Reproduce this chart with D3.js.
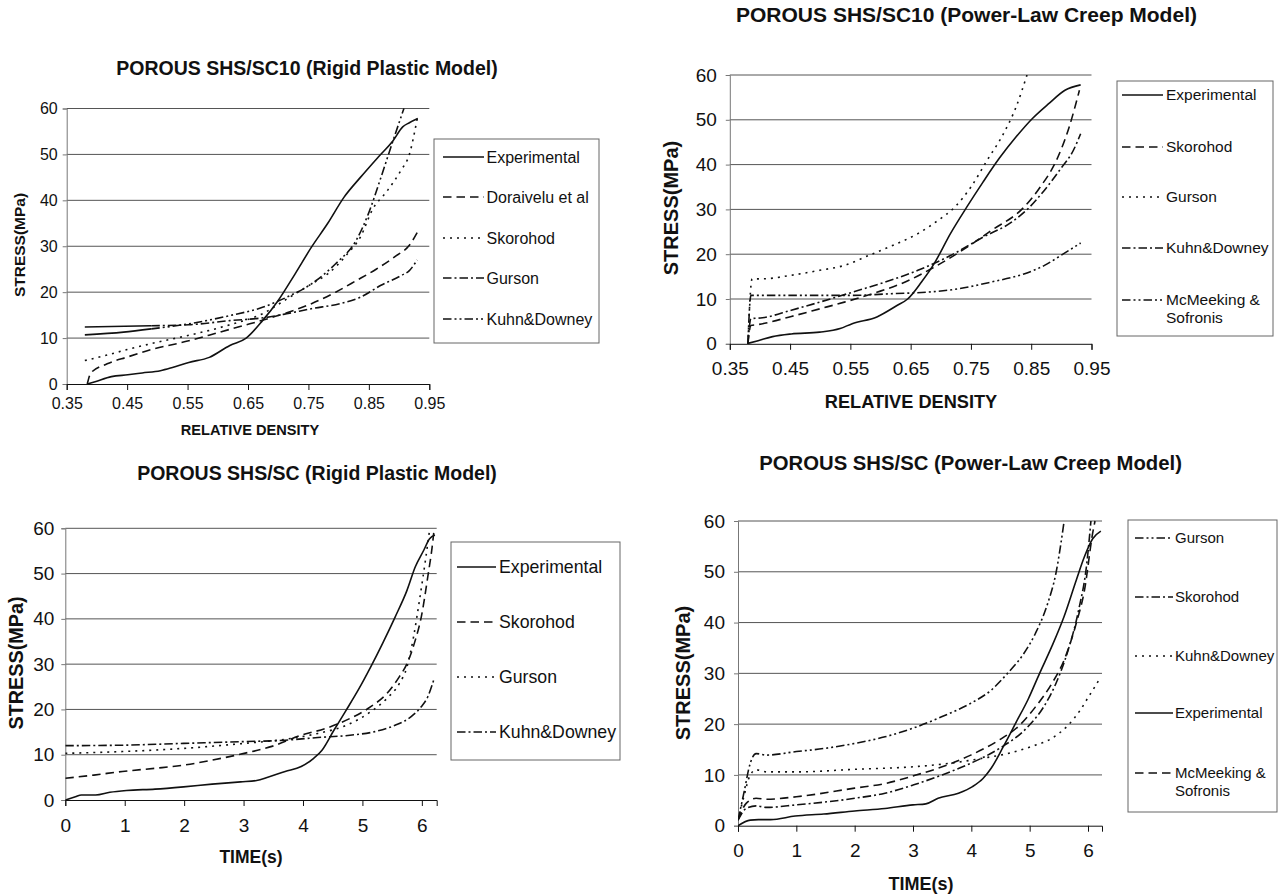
<!DOCTYPE html>
<html><head><meta charset="utf-8">
<script src="https://cdn.jsdelivr.net/npm/d3@7"></script>
<style>
html,body{margin:0;padding:0;background:#fff;}
svg text{font-family:"Liberation Sans",Arial,sans-serif;fill:#111;}
</style></head>
<body><svg id="c" width="1279" height="894"></svg>
<script>
// ---------- DATA ----------
const yTicks = [0,10,20,30,40,50,60];
const densityTicks = [0.35,0.45,0.55,0.65,0.75,0.85,0.95];
const timeTicks = [0,1,2,3,4,5,6];

// Panel 1: POROUS SHS/SC10 (Rigid Plastic Model)
const p1Experimental = [[0.384,0],[0.397,0.5],[0.424,1.6],[0.451,2.0],[0.475,2.4],[0.505,2.9],[0.525,3.6],[0.552,4.7],[0.586,5.8],[0.62,8.4],[0.647,10],[0.674,13.8],[0.70,18.2],[0.728,24],[0.755,29.8],[0.782,35],[0.809,40.7],[0.836,45],[0.866,49.5],[0.89,53],[0.906,56],[0.917,56.9],[0.931,57.8]];
const p1Doraivelu = [[0.384,0],[0.39,2.4],[0.417,4.4],[0.451,5.9],[0.49,7.5],[0.552,9.4],[0.606,11.4],[0.653,13.1],[0.70,14.9],[0.755,17.5],[0.795,20],[0.829,22.5],[0.862,25],[0.896,28],[0.917,30.2],[0.93,33]];
const p1Skorohod = [[0.38,5.1],[0.417,6.3],[0.45,7.5],[0.49,8.8],[0.552,10.6],[0.62,12.9],[0.674,15.3],[0.714,18.5],[0.755,21.8],[0.782,24],[0.815,28.4],[0.836,32],[0.856,38],[0.88,42],[0.903,46.5],[0.917,50],[0.93,57.8]];
const p1Gurson = [[0.38,12.4],[0.49,12.7],[0.552,12.9],[0.62,13.8],[0.68,14.5],[0.714,15.3],[0.755,16.4],[0.802,17.5],[0.836,18.9],[0.87,21.5],[0.903,23.6],[0.917,24.7],[0.93,27]];
const p1KuhnDowney = [[0.38,10.7],[0.444,11.3],[0.49,12],[0.552,13.1],[0.62,14.9],[0.674,16.7],[0.714,18.9],[0.755,21.8],[0.795,26.2],[0.829,31.3],[0.849,37],[0.87,45],[0.89,53],[0.908,60]];

// Panel 2: POROUS SHS/SC10 (Power-Law Creep Model)
const p2Experimental = [[0.38,0.1],[0.397,0.7],[0.421,1.6],[0.452,2.2],[0.499,2.6],[0.533,3.4],[0.553,4.5],[0.594,6],[0.628,8.6],[0.645,10],[0.668,13.8],[0.689,17.9],[0.716,24.6],[0.743,30.5],[0.77,36.1],[0.797,41.4],[0.825,46.2],[0.852,50.3],[0.879,53.6],[0.906,56.6],[0.932,57.8]];
const p2Skorohod = [[0.38,0],[0.385,4.1],[0.397,4.3],[0.452,6.1],[0.499,7.8],[0.54,9.3],[0.594,11.5],[0.641,13.8],[0.689,17.1],[0.736,20.9],[0.784,25.3],[0.838,30.5],[0.865,35],[0.892,41],[0.913,48.4],[0.93,56.6]];
const p2Gurson = [[0.38,0],[0.387,14.5],[0.404,14.5],[0.452,15.3],[0.499,16.4],[0.54,17.5],[0.58,19.7],[0.621,22],[0.662,24.6],[0.696,27.6],[0.723,30.5],[0.75,35],[0.777,41],[0.804,46.9],[0.825,52.9],[0.843,60]];
const p2KuhnDowney = [[0.38,0],[0.385,5.6],[0.404,5.8],[0.452,7.5],[0.499,9.3],[0.553,11.5],[0.608,13.8],[0.662,16.4],[0.716,19.7],[0.77,23.8],[0.818,27.2],[0.845,30.2],[0.872,34.3],[0.899,39.1],[0.92,43.2],[0.932,46.9]];
const p2McMeeking = [[0.38,0],[0.385,10.8],[0.404,10.8],[0.472,10.8],[0.553,10.8],[0.621,11.2],[0.675,11.5],[0.73,12.3],[0.784,13.8],[0.838,15.6],[0.872,17.5],[0.899,19.7],[0.932,22.5]];

// Panel 3: POROUS SHS/SC (Rigid Plastic Model)
const p3Experimental = [[0,0],[0.17,0.7],[0.27,1.1],[0.51,1.1],[0.75,1.7],[1.03,2.1],[1.51,2.4],[1.99,2.9],[2.47,3.5],[2.95,4],[3.22,4.3],[3.42,5.1],[3.7,6.3],[3.97,7.4],[4.18,9.2],[4.32,11],[4.52,15.4],[4.73,19.9],[4.93,24.3],[5.14,29.4],[5.34,34.6],[5.55,40.4],[5.75,46.3],[5.89,51.5],[6.03,55.1],[6.13,57.7],[6.22,58.5]];
const p3Skorohod = [[0,4.8],[0.48,5.5],[0.96,6.3],[1.51,7],[1.99,7.7],[2.47,8.8],[3.01,10.3],[3.49,11.9],[3.97,14.3],[4.38,15.8],[4.79,18],[5.14,20.6],[5.41,23.5],[5.62,27.2],[5.75,30.1],[5.89,35.3],[5.99,40.4],[6.1,49.3],[6.18,56.6],[6.2,59]];
const p3Gurson = [[0,10.3],[0.96,10.7],[1.99,11.4],[3.01,12.5],[3.7,13.4],[4.25,14.7],[4.73,16.5],[5.14,19.5],[5.41,22.4],[5.62,25.7],[5.75,29.4],[5.86,36],[5.96,44.1],[6.06,52.9],[6.13,59.6]];
const p3KuhnDowney = [[0,12],[0.96,12.1],[1.99,12.5],[3.01,12.9],[3.7,13.2],[4.25,13.8],[4.79,14.3],[5.21,15.1],[5.55,16.5],[5.82,18.4],[5.99,20.6],[6.1,22.8],[6.2,26.5]];

// Panel 4: POROUS SHS/SC (Power-Law Creep Model)
const p4Gurson = [[0,1.1],[0.1,6.4],[0.21,12.3],[0.31,14.2],[0.49,13.9],[1,14.6],[1.47,15.2],[2,16.2],[2.52,17.5],[3,19.2],[3.5,21.5],[3.99,24.1],[4.34,26.7],[4.62,30],[4.9,33.9],[5.1,37.9],[5.31,43.8],[5.45,49.7],[5.59,59.9]];
const p4Skorohod = [[0,1.1],[0.14,3.4],[0.31,3.9],[0.49,3.6],[1,4.1],[2,5.4],[2.52,6.4],[3,8],[3.5,10],[3.99,12.3],[4.48,15.2],[4.97,19.5],[5.24,23.4],[5.45,28],[5.66,34.6],[5.84,42.5],[5.98,51.7],[6.05,60]];
const p4KuhnDowney = [[0,1.1],[0.1,5.7],[0.21,10],[0.31,11],[0.49,10.6],[1,10.6],[2,11.1],[3,11.6],[3.64,12.3],[4.2,13.3],[4.62,14.2],[5.03,15.6],[5.38,17.2],[5.66,19.8],[5.87,22.8],[6.01,25.4],[6.12,27.4],[6.22,29.3]];
const p4Experimental = [[0,0],[0.21,1.1],[0.35,1.2],[0.56,1.2],[0.98,1.9],[1.47,2.3],[2,2.9],[2.52,3.4],[3,4.1],[3.22,4.3],[3.43,5.4],[3.78,6.4],[4.02,7.7],[4.2,9.3],[4.34,11.3],[4.55,15.6],[4.76,20.2],[4.97,24.8],[5.17,30],[5.38,35.3],[5.59,41.2],[5.8,48.4],[5.94,53],[6.08,56.5],[6.22,58]];
const p4McMeeking = [[0,1.1],[0.14,4.4],[0.31,5.4],[0.49,5.2],[1,5.7],[2,7.4],[2.52,8.3],[3,9.8],[3.5,11.6],[3.99,13.9],[4.48,16.9],[4.83,19.8],[5.1,23.4],[5.38,28],[5.59,32.6],[5.8,39.9],[5.94,46.4],[6.08,57.6],[6.12,60]];

// ---------- STYLES ----------
const dash = {solid:null, dashed:"8.5,5", dotted:"2,5", dashdot:"8.5,3,2,3", dashdotdot:"8.5,3,2,3,2,3"};

// ---------- PANELS ----------
const panels = [
 { title:"POROUS SHS/SC10 (Rigid Plastic Model)", titleX:307, titleY:75, titleSize:19.5,
   xDomain:[0.35,0.95], xTicks:densityTicks, xFmt:d3.format(".2f"), xLabel:"RELATIVE DENSITY",
   left:66.7, right:429.3, top:108.5, bottom:384, tickFont:16, xPad:7.5, yPad:5,
   yLabelX:20, yLabelY:245, yLabelSize:15.5, xLabelX:250, xLabelY:435, xLabelSize:14.6,
   legend:{x:434,y:139,w:165,h:204, sx0:443, sx1:484, tx:486.5, font:16},
   series:[
     {name:["Experimental"], data:p1Experimental, style:"solid", ly:157},
     {name:["Doraivelu et al"], data:p1Doraivelu, style:"dashed", ly:197},
     {name:["Skorohod"], data:p1Skorohod, style:"dotted", ly:238},
     {name:["Gurson"], data:p1Gurson, style:"dashdot", ly:278, solidTo:0.49},
     {name:["Kuhn&Downey"], data:p1KuhnDowney, style:"dashdotdot", ly:319, solidTo:0.49}
   ]},
 { title:"POROUS SHS/SC10 (Power-Law Creep Model)", titleX:966.5, titleY:22, titleSize:21,
   xDomain:[0.35,0.95], xTicks:densityTicks, xFmt:d3.format(".2f"), xLabel:"RELATIVE DENSITY",
   left:729.8, right:1091.5, top:75, bottom:343.8, tickFont:19, xPad:12, yPad:9,
   yLabelX:671, yLabelY:208, yLabelSize:20, xLabelX:911, xLabelY:408, xLabelSize:18.2,
   legend:{x:1117,y:81,w:156,h:255, sx0:1122, sx1:1163, tx:1166, font:15.5},
   series:[
     {name:["Experimental"], data:p2Experimental, style:"solid", ly:95},
     {name:["Skorohod"], data:p2Skorohod, style:"dashed", ly:147},
     {name:["Gurson"], data:p2Gurson, style:"dotted", ly:197},
     {name:["Kuhn&Downey"], data:p2KuhnDowney, style:"dashdot", ly:248},
     {name:["McMeeking &","Sofronis"], data:p2McMeeking, style:"dashdotdot", ly:300}
   ]},
 { title:"POROUS SHS/SC (Rigid Plastic Model)", titleX:317, titleY:480, titleSize:19.5,
   xDomain:[0,6.25], xTicks:timeTicks, xFmt:d3.format("d"), xLabel:"TIME(s)",
   left:65.3, right:436.7, top:528.3, bottom:800, tickFont:19, xPad:12.5, yPad:7,
   yLabelX:16, yLabelY:663, yLabelSize:19.8, xLabelX:251, xLabelY:863, xLabelSize:17.5,
   legend:{x:451,y:542,w:169,h:218, sx0:457, sx1:496, tx:499, font:17.7},
   series:[
     {name:["Experimental"], data:p3Experimental, style:"solid", ly:567},
     {name:["Skorohod"], data:p3Skorohod, style:"dashed", ly:622},
     {name:["Gurson"], data:p3Gurson, style:"dotted", ly:677},
     {name:["Kuhn&Downey"], data:p3KuhnDowney, style:"dashdot", ly:732}
   ]},
 { title:"POROUS SHS/SC (Power-Law Creep Model)", titleX:970.6, titleY:470, titleSize:20.3,
   xDomain:[0,6.24], xTicks:timeTicks, xFmt:d3.format("d"), xLabel:"TIME(s)",
   left:738, right:1102, top:521, bottom:825.7, tickFont:19, xPad:12, yPad:9,
   yLabelX:683, yLabelY:673, yLabelSize:20, xLabelX:921, xLabelY:890, xLabelSize:18,
   legend:{x:1128,y:520,w:149,h:292, sx0:1135, sx1:1173, tx:1175, font:15},
   series:[
     {name:["Gurson"], data:p4Gurson, style:"dashdotdot", ly:538},
     {name:["Skorohod"], data:p4Skorohod, style:"dashdot", ly:597},
     {name:["Kuhn&Downey"], data:p4KuhnDowney, style:"dotted", ly:656},
     {name:["Experimental"], data:p4Experimental, style:"solid", ly:713},
     {name:["McMeeking &","Sofronis"], data:p4McMeeking, style:"dashed", ly:773}
   ]}
];

const svg = d3.select("#c");
const defs = svg.append("defs");

panels.forEach((p, i) => {
  const x = d3.scaleLinear().domain(p.xDomain).range([p.left, p.right]);
  const y = d3.scaleLinear().domain([0,60]).range([p.bottom, p.top]);
  const g = svg.append("g");

  g.append("text").attr("x", p.titleX).attr("y", p.titleY)
    .attr("text-anchor","middle").attr("font-weight","bold")
    .attr("font-size", p.titleSize).text(p.title);

  g.append("g").selectAll("line").data(yTicks.filter(v => v > 0)).join("line")
    .attr("x1", p.left).attr("x2", p.right)
    .attr("y1", d => y(d)).attr("y2", d => y(d))
    .attr("stroke", "#555").attr("stroke-width", 1);

  const ya = g.append("g").attr("transform", `translate(${p.left},0)`)
    .call(d3.axisLeft(y).tickValues(yTicks).tickSize(4).tickPadding(p.yPad).tickFormat(d3.format("d")));
  ya.select(".domain").attr("stroke", "#777");
  ya.selectAll(".tick line").attr("stroke", "#777");
  ya.selectAll("text").attr("font-size", p.tickFont).attr("font-family", null);

  const xa = g.append("g").attr("transform", `translate(0,${p.bottom})`)
    .call(d3.axisBottom(x).tickValues(p.xTicks).tickSize(6).tickPadding(p.xPad).tickFormat(p.xFmt));
  xa.select(".domain").attr("stroke", "#111");
  xa.selectAll(".tick line").attr("stroke", "#111");
  xa.selectAll("text").attr("font-size", p.tickFont).attr("font-family", null);

  g.append("text").attr("transform", `translate(${p.yLabelX},${p.yLabelY}) rotate(-90)`)
    .attr("text-anchor","middle").attr("dy","0.35em").attr("font-weight","bold")
    .attr("font-size", p.yLabelSize).text("STRESS(MPa)");
  g.append("text").attr("x", p.xLabelX).attr("y", p.xLabelY)
    .attr("text-anchor","middle").attr("font-weight","bold")
    .attr("font-size", p.xLabelSize).text(p.xLabel);

  const cid = "clip" + i;
  defs.append("clipPath").attr("id", cid).append("rect")
    .attr("x", p.left).attr("y", p.top - 1).attr("width", p.right - p.left + 2).attr("height", p.bottom - p.top + 2);

  const line = d3.line().x(d => x(d[0])).y(d => y(d[1])).curve(d3.curveMonotoneX);
  const lg = g.append("g").attr("clip-path", `url(#${cid})`);
  p.series.forEach(s => {
    if (s.solidTo !== undefined) {
      const head = s.data.filter(d => d[0] <= s.solidTo);
      const tail = s.data.filter(d => d[0] >= s.solidTo);
      lg.append("path").attr("d", line(head)).attr("fill","none")
        .attr("stroke","#111").attr("stroke-width",1.6);
      lg.append("path").attr("d", line(tail)).attr("fill","none")
        .attr("stroke","#111").attr("stroke-width",1.6)
        .attr("stroke-dasharray", dash[s.style]);
    } else {
      lg.append("path").attr("d", line(s.data)).attr("fill","none")
        .attr("stroke","#111").attr("stroke-width",1.6)
        .attr("stroke-dasharray", dash[s.style]);
    }
  });

  const L = p.legend;
  g.append("rect").attr("x", L.x).attr("y", L.y).attr("width", L.w).attr("height", L.h)
    .attr("fill","#fff").attr("stroke","#666").attr("stroke-width",1);
  p.series.forEach(s => {
    g.append("line").attr("x1", L.sx0).attr("x2", L.sx1).attr("y1", s.ly).attr("y2", s.ly)
      .attr("stroke","#111").attr("stroke-width",1.6).attr("stroke-dasharray", dash[s.style]);
    s.name.forEach((n, k) => {
      g.append("text").attr("x", L.tx).attr("y", s.ly + k * L.font * 1.15)
        .attr("dy","0.35em").attr("font-size", L.font).text(n);
    });
  });
});
</script></body></html>
